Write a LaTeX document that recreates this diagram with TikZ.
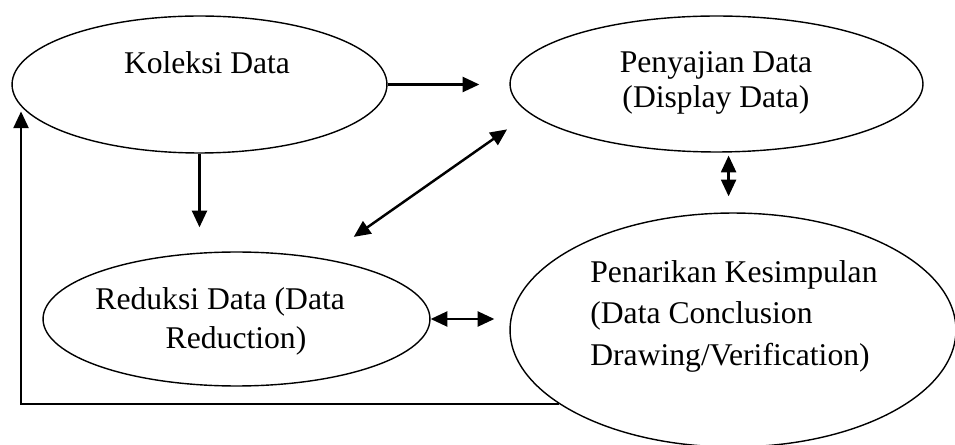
\documentclass[tikz,border=0pt]{standalone}
\usepackage{fontspec}
\setmainfont{Liberation Serif}
\usetikzlibrary{shapes.geometric,arrows.meta,calc}

\begin{document}
\begin{tikzpicture}[x=0.02cm,y=-0.02cm,
  oval/.style={draw,ellipse,line width=0.8pt,inner sep=0pt},
  arr/.style={-{Triangle[length=9.5pt,width=8.5pt]},line width=1.4pt},
  dbl/.style={{Triangle[length=9.5pt,width=8.5pt]}-{Triangle[length=9.5pt,width=8.5pt]},line width=1.4pt},
  lbl/.style={inner sep=0pt,font=\fontsize{18}{22}\selectfont}]
\useasboundingbox (0,0) rectangle (955,445);
% the four ovals
\node[oval,minimum width=7.5cm,minimum height=2.74cm] (kol) at (199.5,84.5) {};
\node[oval,minimum width=8.26cm,minimum height=2.72cm] (pen) at (716.5,84) {};
\node[oval,minimum width=7.74cm,minimum height=2.68cm] (red) at (236.5,319) {};
\node[oval,minimum width=8.92cm,minimum height=4.68cm] (pnk) at (733,330) {};
% their texts
\node[lbl,anchor=north] (kolT) at (207,51.3) {Koleksi Data};
\node[lbl,anchor=north,align=center,font=\fontsize{18}{19.85}\selectfont] (penT) at (716,51.3) {Penyajian Data\\(Display Data)};
\node[lbl,anchor=north,align=center,font=\fontsize{18}{22.1}\selectfont] (redT) at (236,287.6) {Reduksi Data (Data\hspace*{1em}\\Reduction)};
\node[lbl,anchor=north west,align=left,font=\fontsize{18}{23.6}\selectfont] (pnkT) at (590,260) {Penarikan Kesimpulan\\(Data Conclusion\\Drawing/Verification)};
% arrows
\draw[arr,shorten >=0.6cm] (kol.east) -- (kol.east -| pen.west);
\draw[arr,shorten >=0.48cm] (kol.south) -- (kol.south |- red.north);
\draw[dbl,shorten <=0.75cm,shorten >=0.55cm] (red.35) -- (pen.189);
\draw[dbl,shorten <=0.06cm,shorten >=0.32cm] (pen.-80) -- (pen.-80 |- pnk.north);
\draw[dbl,shorten >=0.3cm] (red.east) -- (red.east -| pnk.west);
\draw[arr,shorten >=0.1cm] (pnk.-157) -| (kol.187);
\end{tikzpicture}
\end{document}
